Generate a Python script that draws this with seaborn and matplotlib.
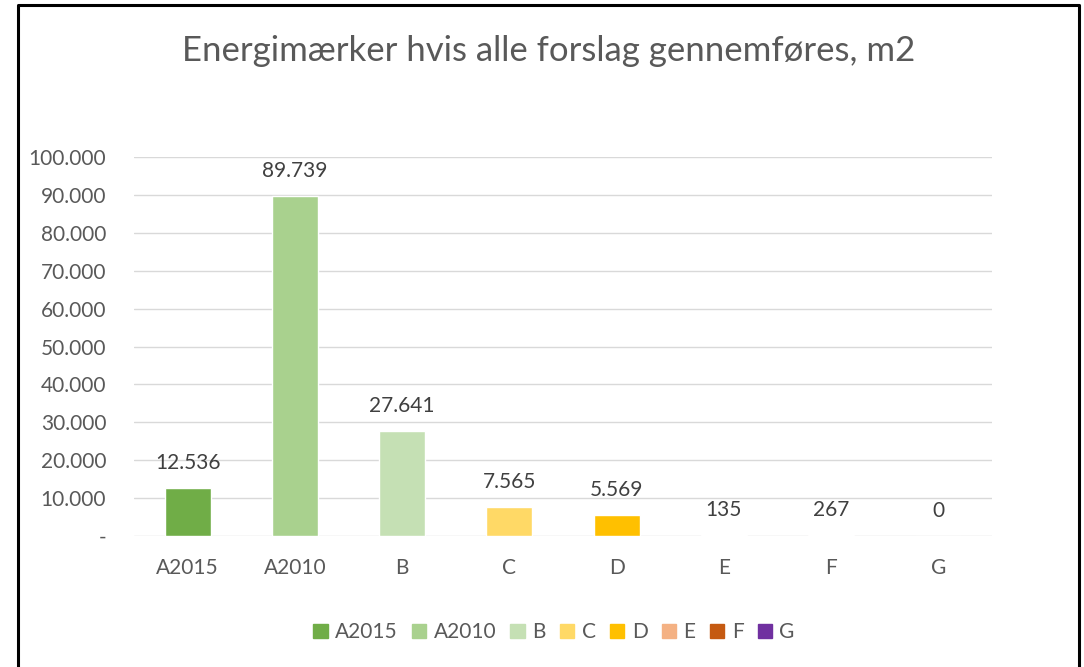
import pandas as pd
import matplotlib.pyplot as plt
import seaborn as sns
from matplotlib.ticker import FuncFormatter
from matplotlib.patches import Rectangle

# Data
categories = ['A2015', 'A2010', 'B', 'C', 'D', 'E', 'F', 'G']
areas = [12536, 89739, 27641, 7565, 5569, 135, 267, 0]
colors = ['#70ad47', '#a9d18e', '#c5e0b4', '#ffd966', '#ffc000', '#f4b183', '#c55a11', '#7030a0']

df = pd.DataFrame({'Energimærke': categories, 'm2': areas})

sns.set_style('white')
plt.rcParams['font.family'] = ['Lato', 'DejaVu Sans']
txt = '#595959'
fs = 15

fig = plt.figure(figsize=(10.84, 6.67), dpi=100)
ax = fig.add_axes([0.1236, 0.1964, 0.7915, 0.5682])

sns.barplot(data=df, x='Energimærke', y='m2', hue='Energimærke',
            palette=colors, saturation=1, dodge=False, width=0.43, ax=ax, legend=False)

ax.set_ylim(0, 100000)
ax.set_yticks(range(0, 100001, 10000))
ax.yaxis.set_major_formatter(FuncFormatter(
    lambda v, p: '-' if v == 0 else f'{int(v):,}'.replace(',', '.')))
ax.grid(axis='y', color='#d9d9d9', linewidth=1)
ax.set_axisbelow(True)
for s in ax.spines.values():
    s.set_visible(False)
ax.tick_params(axis='both', length=0, labelsize=fs, colors=txt)
ax.tick_params(axis='y', pad=20)
ax.tick_params(axis='x', pad=16)
ax.set_xlabel('')
ax.set_ylabel('')

# data labels
for i, v in enumerate(areas):
    ax.text(i, v + 4000, f'{v:,}'.replace(',', '.'), ha='center', va='bottom',
            fontsize=fs, color='#404040')

fig.text(0.506, 0.923, 'Energimærker hvis alle forslag gennemføres, m2',
         ha='center', va='center', fontsize=25, color=txt)

# legend
handles = [Rectangle((0, 0), 1, 1, color=c) for c in colors]
leg = fig.legend(handles, categories, loc='center', bbox_to_anchor=(0.511, 0.052),
                 ncol=8, frameon=False, fontsize=fs, handlelength=0.7,
                 handleheight=0.7, handletextpad=0.35, columnspacing=0.68)
for t in leg.get_texts():
    t.set_color(txt)

# outer border (left, top, right)
fig.add_artist(plt.Line2D([0.0165, 0.0165, 0.9955, 0.9955], [-0.01, 0.9925, 0.9925, -0.01],
                          transform=fig.transFigure, color='black', linewidth=2.2))

fig.savefig('out.png', dpi=100, facecolor='white')
